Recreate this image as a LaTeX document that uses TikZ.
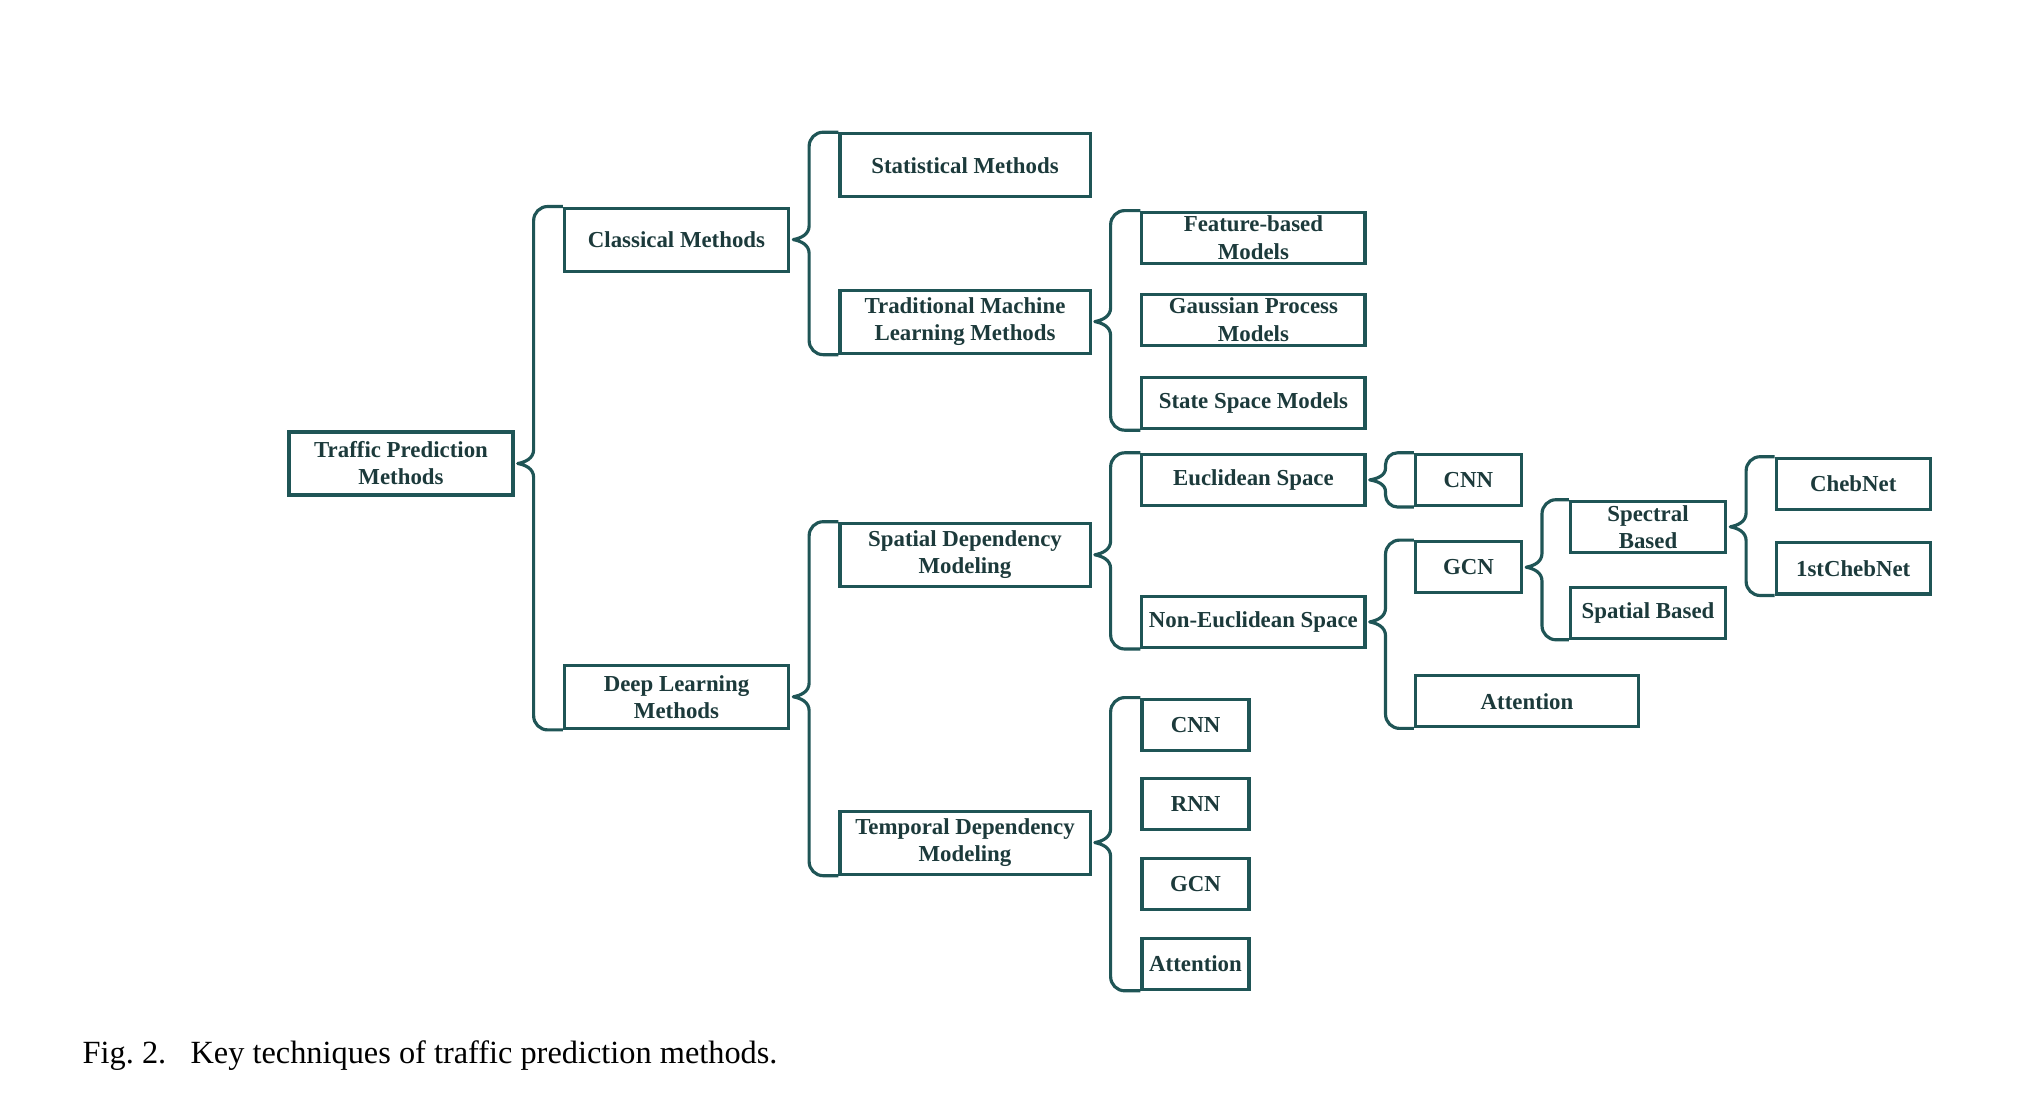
\documentclass[tikz,border=0pt]{standalone}
\usepackage{fontspec}
\setmainfont{Liberation Serif}
\usetikzlibrary{calc}

% curly brace from a parent box to its first and last child
\newcommand{\bracelink}[4][4pt]{%
  \draw[brace] let \p1=(#2.east), \p2=(#3.north west), \p3=(#4.south west) in
    (\x2,\y2) -- (\x1+5.4pt+#1,\y2)
    arc[start angle=90,end angle=180,radius=#1]
    -- (\x1+5.4pt,\y1+#1)
    .. controls (\x1+5.4pt,\y1+0.35*#1) and (\x1+3pt,\y1+0.1*#1) .. (\x1+0.9pt,\y1)
    .. controls (\x1+3pt,\y1-0.1*#1) and (\x1+5.4pt,\y1-0.35*#1) .. (\x1+5.4pt,\y1-#1)
    -- (\x1+5.4pt,\y3+#1)
    arc[start angle=180,end angle=270,radius=#1]
    -- (\x3,\y3);
}

\begin{document}
\begin{tikzpicture}[x=0.01cm,y=-0.01cm,
    box/.style={draw=tp_teal,line width=0.9pt,inner sep=0pt,align=center,
      text=tp_text,font=\fontsize{6.5pt}{7.7pt}\selectfont\bfseries},
    bigbox/.style={box,minimum height=0.63cm},
    smallbox/.style={box,minimum height=0.51cm},
    brace/.style={draw=tp_teal,line width=0.9pt,line join=round}]
    \definecolor{tp_teal}{HTML}{1F5556}
    \definecolor{tp_text}{HTML}{1C3A3B}
    \useasboundingbox (0,0) rectangle (2042,1115);
    %\draw[help lines,step=100] (0,0) grid (2042,1115);

    % root and first level
    \node[bigbox,minimum width=2.24cm] (tpm) at (401,463.5) {Traffic Prediction\\Methods};
    \node[bigbox,minimum width=2.24cm] (classical) at (676.5,239.6) {Classical Methods};
    \node[bigbox,minimum width=2.24cm] (deep) at (676.5,696.8) {Deep Learning\\Methods};

    % classical methods
    \node[bigbox,minimum width=2.50cm] (stat) at (965,165.3) {Statistical Methods};
    \node[bigbox,minimum width=2.50cm] (tml) at (965,321.6) {Traditional Machine\\Learning Methods};
    \node[smallbox,minimum width=2.23cm] (feat) at (1253.4,237.7) {Feature-based\\Models};
    \node[smallbox,minimum width=2.23cm] (gauss) at (1253.4,319.7) {Gaussian Process\\Models};
    \node[smallbox,minimum width=2.23cm] (state) at (1253.4,403.1) {State Space Models};

    % deep learning methods
    \node[bigbox,minimum width=2.50cm] (spatial) at (965,554.8) {Spatial Dependency\\Modeling};
    \node[bigbox,minimum width=2.50cm] (temporal) at (965,842.6) {Temporal Dependency\\Modeling};
    \node[smallbox,minimum width=2.23cm] (euclid) at (1253.4,479.9) {Euclidean Space};
    \node[smallbox,minimum width=2.23cm] (noneuclid) at (1253.4,621.9) {Non-Euclidean Space};
    \node[smallbox,minimum width=1.06cm] (cnnE) at (1468.4,479.9) {CNN};
    \node[smallbox,minimum width=1.06cm] (gcnS) at (1468.4,567.2) {GCN};
    \node[smallbox,minimum width=2.23cm] (attS) at (1527,701.3) {Attention};
    \node[smallbox,minimum width=1.55cm] (spectral) at (1648,526.8) {Spectral\\Based};
    \node[smallbox,minimum width=1.55cm] (spatialb) at (1648,612.7) {Spatial Based};
    \node[smallbox,minimum width=1.54cm] (cheb) at (1853.2,483.8) {ChebNet};
    \node[smallbox,minimum width=1.54cm] (firstcheb) at (1853.2,568.4) {1stChebNet};
    \node[smallbox,minimum width=1.07cm] (cnnT) at (1195.5,724.7) {CNN};
    \node[smallbox,minimum width=1.07cm] (rnnT) at (1195.5,804.2) {RNN};
    \node[smallbox,minimum width=1.07cm] (gcnT) at (1195.5,883.6) {GCN};
    \node[smallbox,minimum width=1.07cm] (attT) at (1195.5,963.7) {Attention};

    % braces
    \bracelink{tpm}{classical}{deep}
    \bracelink{classical}{stat}{tml}
    \bracelink{tml}{feat}{state}
    \bracelink{deep}{spatial}{temporal}
    \bracelink{spatial}{euclid}{noneuclid}
    \bracelink{temporal}{cnnT}{attT}
    \bracelink[3.4pt]{euclid}{cnnE}{cnnE}
    \bracelink{noneuclid}{gcnS}{attS}
    \bracelink{gcnS}{spectral}{spatialb}
    \bracelink{spectral}{cheb}{firstcheb}

    \node[anchor=base west,inner sep=0pt,font=\fontsize{9.2pt}{11pt}\selectfont] (caption) at (82,1063)
      {Fig.~2.\hspace{0.75em}Key techniques of traffic prediction methods.};
\end{tikzpicture}
\end{document}
